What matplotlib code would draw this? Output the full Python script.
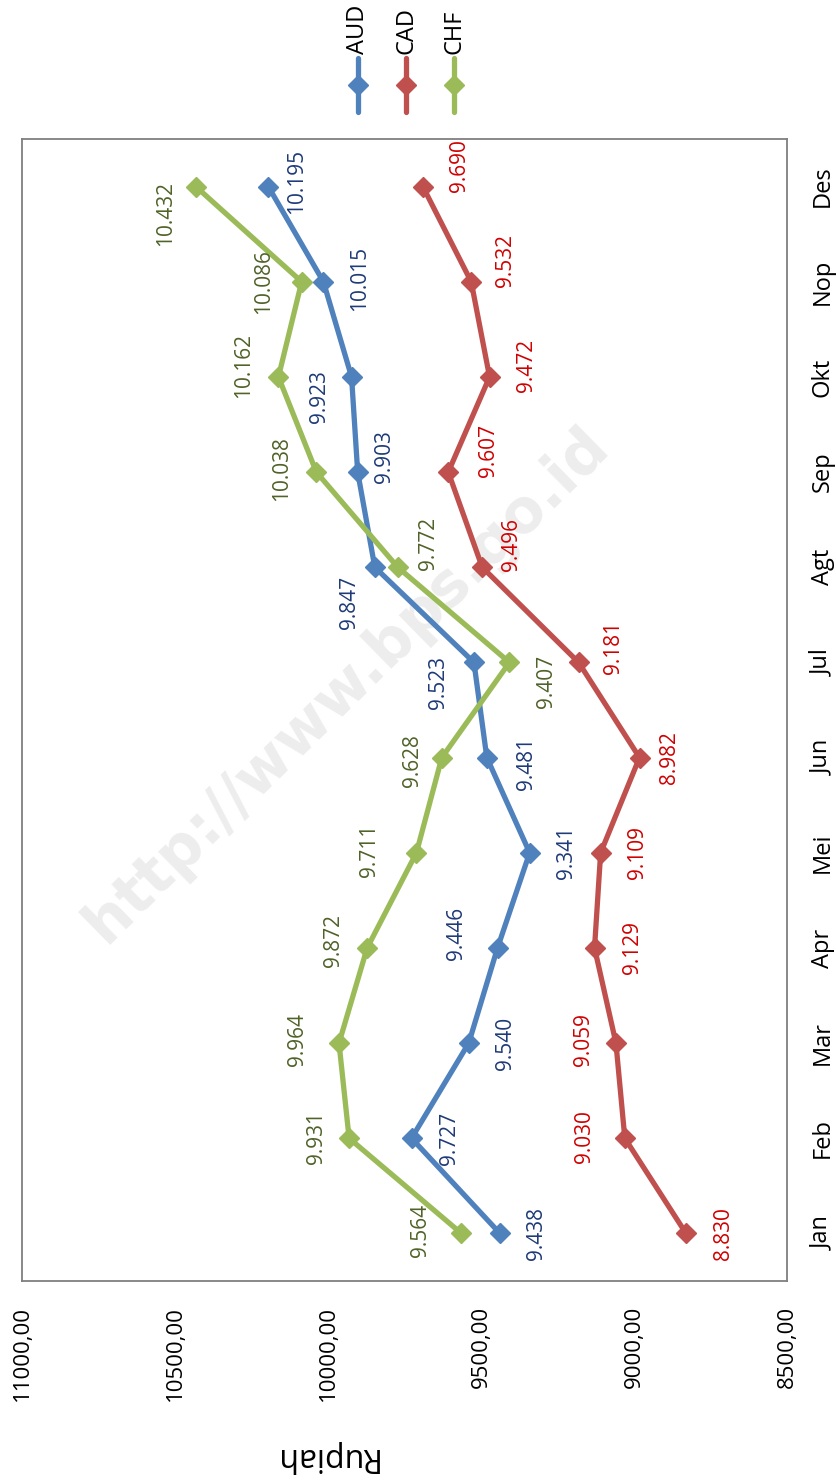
import numpy as np
import matplotlib
matplotlib.use('Agg')
import matplotlib.pyplot as plt

plt.rcParams['font.family'] = ['Open Sans', 'DejaVu Sans']

# data
months = ['Jan', 'Feb', 'Mar', 'Apr', 'Mei', 'Jun', 'Jul', 'Agt', 'Sep', 'Okt', 'Nop', 'Des']
aud = [9438, 9727, 9540, 9446, 9341, 9481, 9523, 9847, 9903, 9923, 10015, 10195]
cad = [8830, 9030, 9059, 9129, 9109, 8982, 9181, 9496, 9607, 9472, 9532, 9690]
chf = [9564, 9931, 9964, 9872, 9711, 9628, 9407, 9772, 10038, 10162, 10086, 10432]
series_names = ['AUD', 'CAD', 'CHF']
value_ticks = [11000, 10500, 10000, 9500, 9000, 8500]
axis_title = 'Rupiah'
watermark = 'http://www.bps.go.id'

line_colors = ['#4F81BD', '#C0504D', '#9BBB59']
label_colors = ['#1F3A78', '#D00000', '#4F6228']

# label offsets from the marker, in pixels (x right, y down)
offsets = [
    [(37, 0), (38, 0), (37, 0), (-41, -14), (37, 0), (40, 6), (-35, 20), (-25, 35),
     (27, -16), (-32, 20), (36, -3), (28, -5)],
    [(37, 0), (-40, -2), (-32, -4), (38, 0), (37, 0), (30, 0), (35, -15), (29, -23),
     (40, -22), (37, -11), (34, -21), (37, -21)],
    [(-41, -3), (-33, -1), (-42, -4), (-34, -7), (-47, -2), (-29, 3), (37, 19), (31, -24),
     (-35, -4), (-35, -11), (-38, 0), (-30, 27)],
]

W, H = 836, 1484
fig = plt.figure(figsize=(W / 100, H / 100), dpi=100)
ax = fig.add_axes([22 / W, (H - 1281) / H, 765 / W, 1142 / H])

ypos = np.arange(len(months))
ax.text(0.425, 0.522, watermark, transform=ax.transAxes, rotation=44.5,
        rotation_mode='anchor', ha='center', va='center', fontsize=43,
        fontweight='bold', color='#EDEDED', zorder=0,
        family=['DejaVu Sans'])

for k, vals in enumerate([aud, cad, chf]):
    ax.plot(vals, ypos, color=line_colors[k], lw=3.8, marker='D', ms=10,
            solid_capstyle='round', zorder=3)
    for i, v in enumerate(vals):
        dx, dy = offsets[k][i]
        txt = f'{v:,}'.replace(',', '.')
        ax.annotate(txt, (v, i), xytext=(dx, -dy), textcoords='offset pixels',
                    rotation=90, ha='center', va='center', fontsize=15,
                    color=label_colors[k], zorder=4)

ax.set_xlim(11000, 8500)
ax.set_ylim(-0.5, 11.5)
ax.set_xticks(value_ticks)
ax.set_xticklabels([f'{t},00' for t in value_ticks], rotation=90, fontsize=16)
ax.tick_params(axis='x', length=0, pad=18)
ax.yaxis.tick_right()
ax.set_yticks(ypos)
ax.set_yticklabels(months, rotation=90, va='center', ha='left', fontsize=17)
ax.tick_params(axis='y', length=0, pad=17)
for s in ax.spines.values():
    s.set_color('#7F7F7F')
    s.set_linewidth(1.3)

fig.text(325 / W, 1 - 1457 / H, axis_title, rotation=180, ha='center', va='center',
         fontsize=23)

# legend drawn vertically at the top
lax = fig.add_axes([330 / W, 1 - 120 / H, 150 / W, 120 / H])
lax.set_xlim(0, 150)
lax.set_ylim(120, 0)
lax.axis('off')
for k, name in enumerate(series_names):
    x = 28 + k * 48
    lax.plot([x, x, x], [58, 85, 112], color=line_colors[k], lw=3.8, marker='D',
             ms=10, markevery=[1], solid_capstyle='round')
    lax.text(x, 54, name, rotation=90, ha='center', va='bottom', fontsize=17)

fig.savefig('out.png', dpi=100)
